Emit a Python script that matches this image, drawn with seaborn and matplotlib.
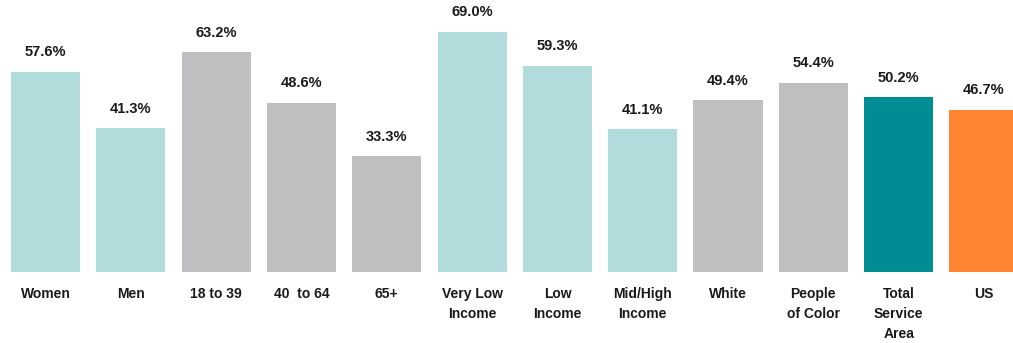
import pandas as pd
import matplotlib.pyplot as plt
import seaborn as sns

# data
categories = ['Women', 'Men', '18 to 39', '40  to 64', '65+', 'Very Low\nIncome',
              'Low\nIncome', 'Mid/High\nIncome', 'White', 'People\nof Color',
              'Total\nService\nArea', 'US']
values = [57.6, 41.3, 63.2, 48.6, 33.3, 69.0, 59.3, 41.1, 49.4, 54.4, 50.2, 46.7]
labels = ['57.6%', '41.3%', '63.2%', '48.6%', '33.3%', '69.0%', '59.3%', '41.1%',
          '49.4%', '54.4%', '50.2%', '46.7%']
groups = ['light', 'light', 'gray', 'gray', 'gray', 'light', 'light', 'light',
          'gray', 'gray', 'total', 'us']

colors = {'light': '#B2DBDC', 'gray': '#BEBFC1', 'total': '#008C93', 'us': '#FF8533'}

df = pd.DataFrame({'cat': categories, 'val': values, 'grp': groups})

sns.set_style('white')
plt.rcParams['font.family'] = ['Liberation Sans', 'DejaVu Sans']

fig = plt.figure(figsize=(10.13, 3.43), dpi=100)
ax = fig.add_axes([0, 0.207, 1, 0.793])

palette = {c: colors[g] for c, g in zip(categories, groups)}
sns.barplot(data=df, x='cat', y='val', hue='cat', palette=palette, legend=False,
            width=0.81, saturation=1, linewidth=0, ax=ax)

ax.set_xlim(-0.533, 11.34)
ax.set_ylim(0, 78.2)

# value labels above bars
for i, (v, lab) in enumerate(zip(values, labels)):
    ax.text(i, v + 3.6, lab, ha='center', va='bottom', fontsize=10.5,
            fontweight='bold', color='#1a1a1a')

# category labels under bars
for i, cat in enumerate(categories):
    ax.text(i, -4.2, cat, ha='center', va='top', fontsize=10, fontweight='bold',
            color='#1a1a1a', linespacing=1.55)

ax.set_xticks([])
ax.set_yticks([])
ax.set_xlabel('')
ax.set_ylabel('')
sns.despine(ax=ax, left=True, bottom=True)

fig.savefig('out.png', dpi=100)
